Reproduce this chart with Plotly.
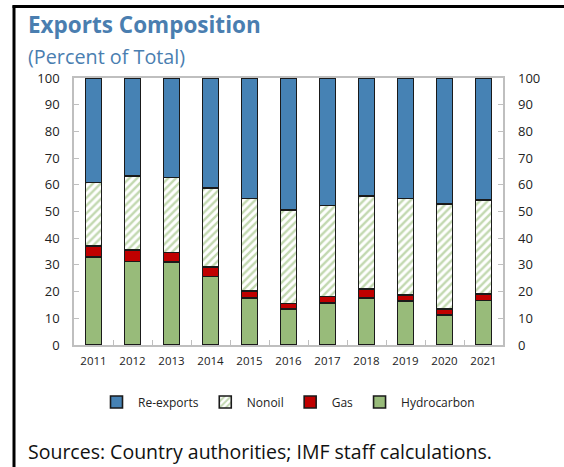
import plotly.graph_objects as go

years = ["2011", "2012", "2013", "2014", "2015", "2016", "2017", "2018", "2019", "2020", "2021"]
hydrocarbon = [33.0, 31.3, 31.0, 25.6, 17.6, 13.4, 15.7, 17.7, 16.4, 11.2, 16.6]
gas = [4.0, 4.2, 3.7, 3.7, 2.6, 2.1, 2.5, 3.2, 2.4, 2.2, 2.6]
nonoil = [23.9, 27.9, 28.1, 29.6, 34.7, 35.1, 34.1, 34.8, 36.1, 39.4, 35.0]
reexports = [round(100 - h - g - n, 1) for h, g, n in zip(hydrocarbon, gas, nonoil)]
y_ticks = [0, 10, 20, 30, 40, 50, 60, 70, 80, 90, 100]

BLUE = "#4682B4"
RED = "#C00000"
GREEN = "#98BB7A"
HATCH = "#86B262"
GRID = "#BFBFBF"
TITLE_C = "#4A7EB0"
FONT = "Open Sans"

line = dict(color="#1a1a1a", width=1.6)
fig = go.Figure()
fig.add_bar(x=years, y=hydrocarbon, name="Hydrocarbon", marker=dict(color=GREEN, line=line))
fig.add_bar(x=years, y=gas, name="Gas", marker=dict(color=RED, line=line))
fig.add_bar(x=years, y=nonoil, name="Nonoil",
            marker=dict(color="white", line=line,
                        pattern=dict(shape="/", fgcolor=HATCH, bgcolor="white", size=5.5, solidity=0.45)))
fig.add_bar(x=years, y=reexports, name="Re-exports", marker=dict(color=BLUE, line=line))
# invisible helper so the right-hand axis is drawn
fig.add_scatter(x=[years[0]], y=[0], yaxis="y2", mode="markers", marker=dict(opacity=0, size=1),
                showlegend=False, hoverinfo="skip")

L, R, T, B = 74, 61, 78, 122
W, H = 564, 467
pw, ph = W - L - R, H - T - B
def px(x):
    return (x - L) / pw
def py(y):
    return (H - B - y) / ph

fig.update_layout(
    width=W, height=H,
    margin=dict(l=L, r=R, t=T, b=B, autoexpand=False),
    barmode="stack", bargap=0.59,
    paper_bgcolor="white", plot_bgcolor="white",
    font=dict(family=FONT, color="#222222", size=12),
    showlegend=True,
    legend=dict(orientation="h", x=px(95), y=py(402), xanchor="left", yanchor="middle",
                traceorder="reversed", font=dict(size=12, family=FONT, color="#222222"),
                itemwidth=33, bgcolor="rgba(0,0,0,0)"),
    xaxis=dict(type="category", range=[-0.5, len(years) - 0.5], showline=True, linecolor=GRID,
               linewidth=1.5, mirror=True, ticks="inside", ticklen=5, tickcolor=GRID,
               tickson="boundaries", ticklabelstandoff=4,
               tickfont=dict(size=11.5, family=FONT, color="#222222"), showgrid=False),
    yaxis=dict(range=[0, 100], tickvals=y_ticks, showline=True, linecolor=GRID, linewidth=1.5,
               mirror=True, ticks="inside", ticklen=5, tickcolor=GRID, showgrid=False,
               zeroline=False, tickfont=dict(size=13, family=FONT, color="#222222"),
               ticklabelstandoff=10),
    yaxis2=dict(range=[0, 100], tickvals=y_ticks, overlaying="y", side="right", showline=False,
                ticks="inside", ticklen=5, tickcolor=GRID, showgrid=False, zeroline=False,
                tickfont=dict(size=13, family=FONT, color="#222222"), ticklabelstandoff=14),
    annotations=[
        dict(text="<b>Exports Composition</b>", xref="paper", yref="paper", x=px(26), y=py(25),
             xanchor="left", yanchor="middle", showarrow=False,
             font=dict(size=22.5, family=FONT, color=TITLE_C)),
        dict(text="(Percent of Total)", xref="paper", yref="paper", x=px(26), y=py(56),
             xanchor="left", yanchor="middle", showarrow=False,
             font=dict(size=19.8, family=FONT, color=TITLE_C)),
        dict(text="Sources: Country authorities; IMF staff calculations.", xref="paper", yref="paper",
             x=px(26), y=py(451), xanchor="left", yanchor="middle", showarrow=False,
             font=dict(size=19.5, family=FONT, color="#111111")),
    ],
    shapes=[
        dict(type="line", xref="paper", yref="paper", x0=px(14), x1=px(14), y0=py(5.5), y1=py(H + 5),
             line=dict(color="black", width=3)),
        dict(type="line", xref="paper", yref="paper", x0=px(12.5), x1=px(W + 5), y0=py(6.5), y1=py(6.5),
             line=dict(color="black", width=3)),
    ],
)
fig.write_html("out.html", config={"displayModeBar": False},
               post_script="document.body.style.margin='0px';")
